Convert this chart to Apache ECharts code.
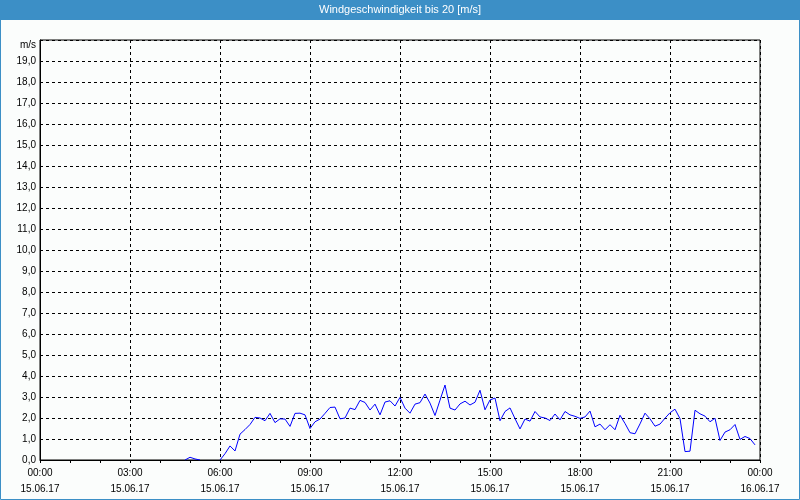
<!DOCTYPE html>
<html>
<head>
<meta charset="utf-8">
<script src="https://cdn.jsdelivr.net/npm/echarts@6/dist/echarts.min.js"></script>
<style>
html,body{margin:0;padding:0;background:#fbfdfc;}
#c{width:800px;height:500px;}
</style>
</head>
<body>
<div id="c"></div>
<script>
// Chart title and axis text
var chartTitle = 'Windgeschwindigkeit bis 20 [m/s]';
var unitLabel = 'm/s';
var xTickHours = [0, 3, 6, 9, 12, 15, 18, 21, 24];
var xTickTimes = ['00:00', '03:00', '06:00', '09:00', '12:00', '15:00', '18:00', '21:00', '00:00'];
var xTickDates = ['15.06.17', '15.06.17', '15.06.17', '15.06.17', '15.06.17', '15.06.17', '15.06.17', '15.06.17', '16.06.17'];

// Measurements every 10 minutes, first sample at 04:50 (null = no line drawn)
var firstSampleHour = 4 + 50 / 60;
var stepMinutes = 10;
var windSpeed = [
  0, 0.13, 0.05, 0, null, null, null,
  0, 0.3, 0.67, 0.43, 1.23, 1.45,
  1.69, 2.03, 2.0, 1.87, 2.22, 1.78,
  1.96, 1.95, 1.6, 2.22, 2.23, 2.15,
  1.5, 1.82, 1.95, 2.22, 2.5, 2.52,
  1.96, 2.0, 2.47, 2.4, 2.84, 2.74,
  2.38, 2.66, 2.15, 2.76, 2.82, 2.57,
  2.98, 2.47, 2.23, 2.66, 2.73, 3.14,
  2.71, 2.12, 2.85, 3.57, 2.47, 2.38,
  2.67, 2.8, 2.62, 2.75, 3.32, 2.39,
  2.86, 2.95, 1.87, 2.31, 2.48, 1.97,
  1.48, 1.95, 1.85, 2.31, 2.05, 2.0,
  1.88, 2.19, 1.91, 2.31, 2.15, 2.08,
  1.98, 2.05, 2.33, 1.58, 1.71, 1.44,
  1.68, 1.44, 2.13, 1.74, 1.3, 1.25,
  1.72, 2.23, 1.96, 1.61, 1.71, 1.99,
  2.25, 2.42, 1.97, 0.4, 0.42, 2.37,
  2.2, 2.09, 1.82, 1.99, 0.93, 1.33,
  1.44, 1.69, 0.98, 1.12, 1.02, 0.72
];

var seriesData = windSpeed.map(function (v, i) {
  return [firstSampleHour + i * stepMinutes / 60, v];
});

var labelFont = 'Liberation Sans, Arial, sans-serif';
var chart = echarts.init(document.getElementById('c'), null, {renderer: 'canvas'});
chart.setOption({
  animation: false,
  backgroundColor: '#fbfdfc',
  graphic: [
    {type: 'rect', shape: {x: 0, y: 0, width: 800, height: 20}, style: {fill: '#3c8fc6'}, z: 10},
    {type: 'rect', shape: {x: 0.5, y: 0.5, width: 799, height: 499}, style: {fill: null, stroke: '#3c8fc6', lineWidth: 1}, z: 10},
    {type: 'text', x: 400, y: 10, style: {text: chartTitle, fill: '#ffffff', font: '11px ' + labelFont, textAlign: 'center', textVerticalAlign: 'middle'}, z: 11}
  ],
  grid: {left: 40, right: 40, top: 40, bottom: 40, show: true, borderColor: '#000', borderWidth: 1, backgroundColor: 'transparent'},
  xAxis: {
    type: 'value', min: 0, max: 24, interval: 3,
    axisLine: {show: true, lineStyle: {color: '#000', width: 1}},
    axisTick: {show: true, length: 3, lineStyle: {color: '#000'}},
    minorTick: {show: true, splitNumber: 3, length: 3, lineStyle: {color: '#000'}},
    splitLine: {show: true, lineStyle: {color: '#000', type: [3, 3], width: 1}},
    axisLabel: {
      margin: 5, color: '#000', fontSize: 10, fontFamily: labelFont, lineHeight: 16,
      showMinLabel: true, showMaxLabel: true,
      formatter: function (v) {
        var i = xTickHours.indexOf(Math.round(v));
        return i < 0 ? '' : xTickTimes[i] + '\n' + xTickDates[i];
      }
    }
  },
  yAxis: {
    type: 'value', min: 0, max: 20, interval: 1,
    axisLine: {show: true, lineStyle: {color: '#000', width: 1}},
    axisTick: {show: false},
    splitLine: {show: true, lineStyle: {color: '#000', type: [3, 3], width: 1}},
    axisLabel: {
      margin: 4, color: '#000', fontSize: 10, fontFamily: labelFont,
      formatter: function (v) {
        if (v === 20) return '{u|' + unitLabel + '}';
        return v.toFixed(1).replace('.', ',');
      },
      rich: {u: {fontSize: 10, fontFamily: labelFont, color: '#000', padding: [10, 0, 0, 0]}}
    }
  },
  series: [{
    type: 'line', data: seriesData, showSymbol: false, symbol: 'none',
    connectNulls: false,
    lineStyle: {color: '#0000ff', width: 1},
    z: 3
  }]
});
</script>
</body>
</html>
